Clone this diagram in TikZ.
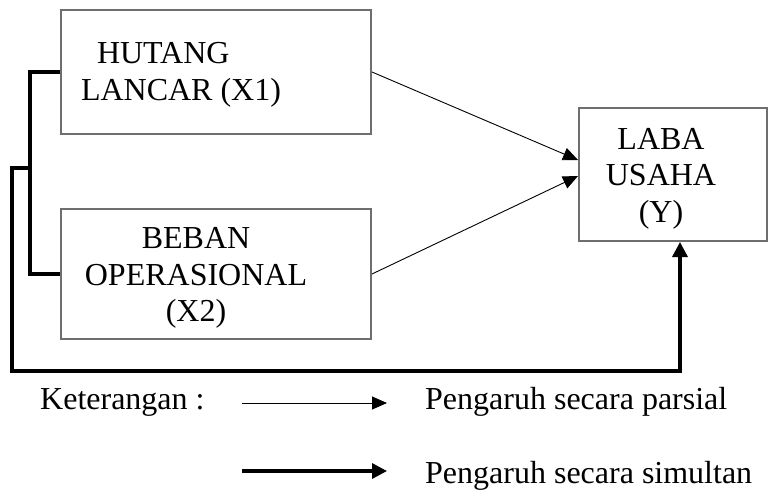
\documentclass[tikz,border=0pt]{standalone}
\usepackage{fontspec}
\setmainfont{Liberation Serif}
\usetikzlibrary{arrows.meta,positioning}
\definecolor{boxgray}{RGB}{110,110,110}

\begin{document}
\begin{tikzpicture}[
    x=1pt, y=-1pt,
    font=\fontsize{32}{36.5}\selectfont,
    var/.style={rectangle, draw=boxgray, line width=2pt, inner sep=0pt},
    parsial/.style={line width=0.9pt, -{Triangle[length=15pt,width=13pt]}},
    simul/.style={line width=3.3pt},
    simularrow/.style={simul, -{Triangle[length=15pt,width=15pt]}},
    legend/.style={anchor=base west, inner sep=0pt}
]
    \useasboundingbox (0,0) rectangle (769,490);

    % Variabel bebas
    \node[var, minimum width=310pt, minimum height=124pt,
        label={[align=left, xshift=-35pt, yshift=-3pt]center:\hspace*{16pt}HUTANG\\LANCAR (X1)}] (hutang) at (216,72) {};

    \node[var, minimum width=310pt, minimum height=130pt, below=73pt of hutang,
        label={[align=center, xshift=-20pt, yshift=-4pt]center:BEBAN\\OPERASIONAL\\(X2)}] (beban) {};

    % Variabel terikat
    \node[var, minimum width=188pt, minimum height=133pt,
        label={[align=center, xshift=-12pt, yshift=-4pt]center:LABA\\USAHA\\(Y)}] (laba) at (673,174.5) {};

    % Parsial
    \draw[parsial] (hutang.east) -- ([yshift=14.5pt]laba.west);
    \draw[parsial] (beban.east) -- ([yshift=-1.5pt]laba.west);

    % Simultan
    \coordinate (brk) at (30,168);
    \coordinate (low) at (12,371);
    \draw[simul] (hutang.west) -| (brk) |- (beban.west);
    \draw[simularrow] (brk) -| (low) -| ([xshift=7pt]laba.south);

    % Keterangan
    \node[legend] (ket) at (40,409) {Keterangan :};
    \node[legend] (txtparsial) at (425,409) {Pengaruh secara parsial};
    \node[legend] (txtsimul) at (425,483) {Pengaruh secara simultan};

    \coordinate (lp1) at (242,403);
    \coordinate (lp2) at (387,403);
    \coordinate (ls1) at (242,471);
    \coordinate (ls2) at (387,471);
    \draw[parsial] (lp1) -- (lp2);
    \draw[simularrow] (ls1) -- (ls2);
\end{tikzpicture}
\end{document}
